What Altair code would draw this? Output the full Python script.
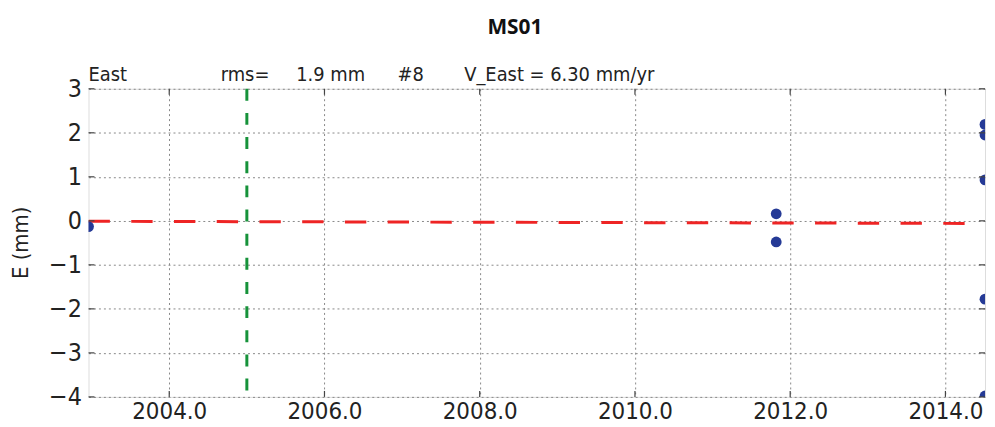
import altair as alt
import pandas as pd

# ---- data ----
obs_year = [2002.96, 2011.82, 2011.82, 2014.51, 2014.51, 2014.51, 2014.51, 2014.51]
obs_east = [-0.13, 0.16, -0.48, 2.19, 1.95, 0.93, -1.78, -3.98]

fit_year = [2002.96, 2014.51]
fit_east = [-0.01, -0.06]

event_year = [2005.0]

x_ticks = [2004, 2006, 2008, 2010, 2012, 2014]
y_ticks = [-4, -3, -2, -1, 0, 1, 2, 3]
x_domain = [2002.96, 2014.51]
y_domain = [-4, 3]

title_text = "MS01"
header_texts = ["East", "rms=", "1.9 mm", "#8", "V_East = 6.30 mm/yr"]
header_offsets = [0, 133, 209, 311, 378]
y_title = "E (mm)"

FONT = "DejaVu Sans Condensed, DejaVu Sans"
W, H = 902, 310
TICK = 6

obs = pd.DataFrame({"year": obs_year, "E": obs_east})
fit = pd.DataFrame({"year": fit_year, "E": fit_east})
ev = pd.DataFrame({"year": event_year})
xt = pd.DataFrame({"year": x_ticks})
yt = pd.DataFrame({"E": y_ticks})

xs = alt.Scale(domain=x_domain, nice=False, zero=False)
ys = alt.Scale(domain=y_domain, nice=False, zero=False)

x_axis = alt.Axis(values=x_ticks, format=".1f", title=None, grid=True,
                  gridDash=[2, 3], gridColor="#888", gridWidth=1,
                  domain=False, ticks=False, labelFontSize=24, labelFont=FONT,
                  labelColor="#222", labelPadding=3, labelFlush=False,
                  labelOverlap=False)
y_axis = alt.Axis(values=y_ticks, title=None, grid=True,
                  gridDash=[2, 3], gridColor="#888", gridWidth=1,
                  domain=False, ticks=False, labelFontSize=25, labelFont=FONT,
                  labelColor="#222", labelPadding=7, labelFlush=False,
                  labelOverlap=False,
                  labelExpr="replace(datum.label, '-', '\u2212')")

points = alt.Chart(obs).mark_circle(size=118, color="#253a96", opacity=1, clip=True).encode(
    x=alt.X("year:Q", scale=xs, axis=x_axis),
    y=alt.Y("E:Q", scale=ys, axis=y_axis),
)

fit_line = alt.Chart(fit).mark_line(color="#ee2424", strokeWidth=3,
                                    strokeDash=[21.5, 21.5], clip=True).encode(
    x=alt.X("year:Q", scale=xs, axis=x_axis),
    y=alt.Y("E:Q", scale=ys, axis=y_axis),
)

event_rule = alt.Chart(ev).mark_rule(color="#16923a", strokeWidth=3,
                                     strokeDash=[12, 12.3]).encode(
    x=alt.X("year:Q", scale=xs, axis=x_axis),
)

# inward ticks on all four sides (matplotlib classic style)
tick_layers = []
for ypos in [TICK / 2, H - TICK / 2]:
    tick_layers.append(
        alt.Chart(xt).mark_tick(orient="vertical", size=TICK, thickness=1.2,
                                color="#444", opacity=1).encode(
            x=alt.X("year:Q", scale=xs, axis=x_axis), y=alt.value(ypos))
    )
for xpos in [TICK / 2, W - TICK / 2]:
    tick_layers.append(
        alt.Chart(yt).mark_tick(orient="horizontal", size=TICK, thickness=1.2,
                                color="#444", opacity=1).encode(
            y=alt.Y("E:Q", scale=ys, axis=y_axis), x=alt.value(xpos))
    )

one = pd.DataFrame({"k": [0]})
layers = [event_rule, fit_line, points] + tick_layers
for txt, off in zip(header_texts, header_offsets):
    layers.append(
        alt.Chart(one).mark_text(align="left", baseline="alphabetic", fontSize=20,
                                 font=FONT, color="#222", text=txt).encode(
            x=alt.value(off), y=alt.value(-8))
    )

layers.append(
    alt.Chart(one).mark_text(align="center", baseline="alphabetic", fontSize=21,
                             fontWeight="bold", font="Open Sans", color="#111",
                             text=title_text).encode(
        x=alt.value(429), y=alt.value(-55))
)
layers.append(
    alt.Chart(one).mark_text(align="center", baseline="middle", fontSize=22, angle=270,
                             font=FONT, color="#222", text=y_title).encode(
        x=alt.value(-68), y=alt.value(155))
)

chart = alt.layer(*layers).properties(
    width=W, height=H,
    autosize=alt.AutoSizeParams(type="none"),
    padding={"left": 81, "top": 80, "right": 2, "bottom": 29},
).configure_view(stroke="#555", strokeWidth=1.5).configure(background="white")

chart.save("out.html", embed_options={"renderer": "svg", "actions": False})
